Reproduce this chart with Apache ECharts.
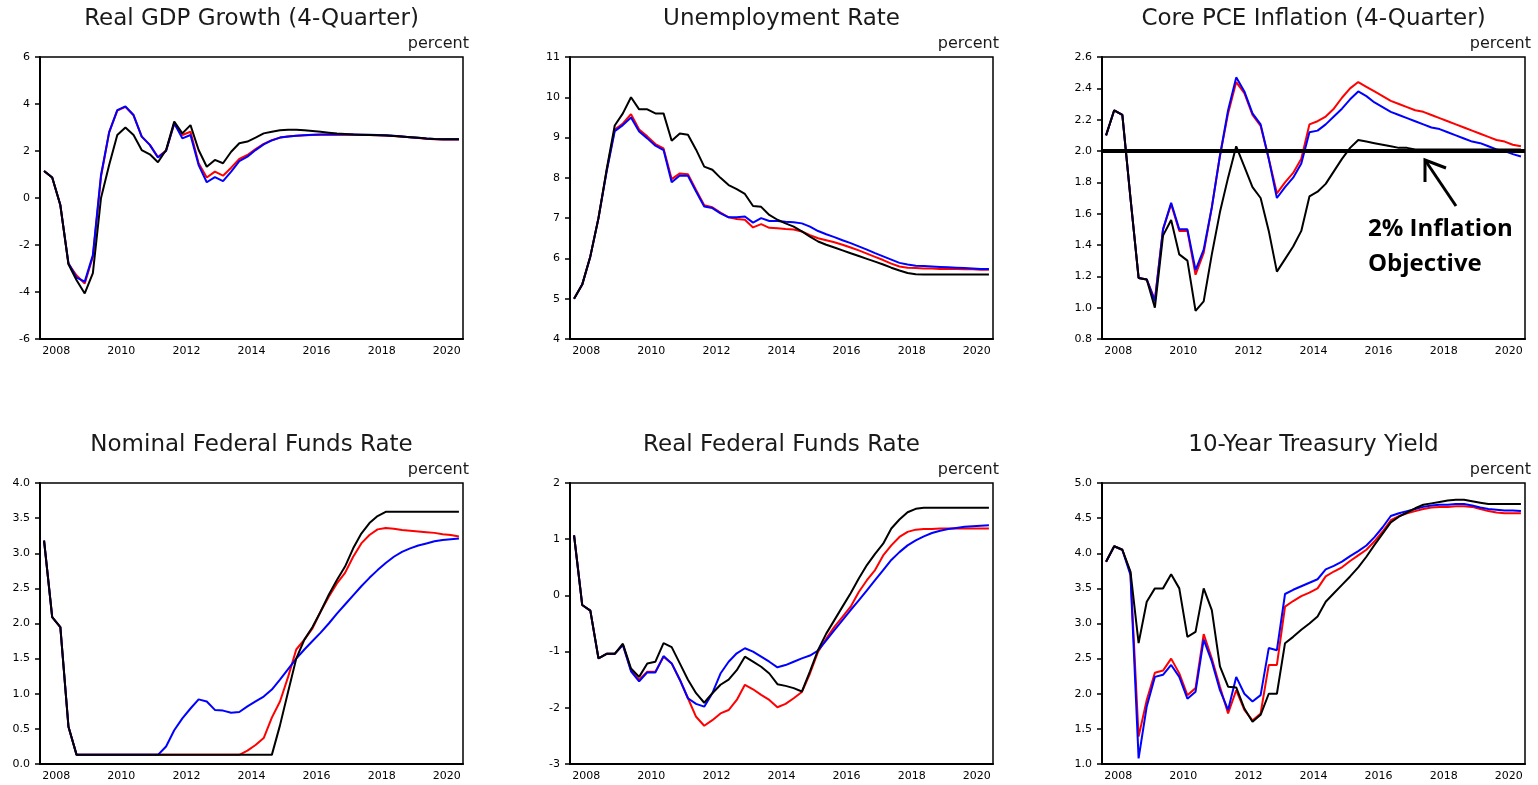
<!DOCTYPE html>
<html>
<head>
<meta charset="utf-8">
<script src="https://cdn.jsdelivr.net/npm/echarts@6/dist/echarts.min.js"></script>
<style>
  html, body { margin: 0; background: #fff; }
  #main { width: 1538px; height: 785px; }
</style>
</head>
<body>
<div id="main"></div>
<script>
// quarterly path 2008Q1 - 2020Q4
const years = ['2008', '2009', '2010', '2011', '2012', '2013', '2014', '2015', '2016', '2017', '2018', '2019', '2020'];
const quarters = [];
years.forEach(function (y) { ['Q1', 'Q2', 'Q3', 'Q4'].forEach(function (q) { quarters.push(y + q); }); });

const gdpRed = [1.15, 0.87, -0.3, -2.8, -3.3, -3.64, -2.5, 0.9, 2.8, 3.72, 3.88, 3.52, 2.62, 2.26, 1.74, 2.02, 3.15, 2.68, 2.82, 1.48, 0.87, 1.12, 0.95, 1.29, 1.66, 1.83, 2.08, 2.3, 2.46, 2.57, 2.62, 2.65, 2.67, 2.68, 2.69, 2.69, 2.69, 2.69, 2.69, 2.68, 2.68, 2.67, 2.66, 2.64, 2.61, 2.58, 2.55, 2.52, 2.5, 2.49, 2.49, 2.49];
const gdpBlue = [1.15, 0.87, -0.3, -2.78, -3.39, -3.56, -2.43, 0.98, 2.79, 3.74, 3.9, 3.53, 2.61, 2.26, 1.72, 2.0, 3.18, 2.54, 2.68, 1.4, 0.67, 0.89, 0.72, 1.12, 1.57, 1.76, 2.04, 2.28, 2.45, 2.57, 2.62, 2.65, 2.67, 2.69, 2.7, 2.7, 2.7, 2.7, 2.7, 2.69, 2.69, 2.68, 2.67, 2.65, 2.62, 2.59, 2.56, 2.53, 2.51, 2.5, 2.5, 2.5];
const gdpBlack = [1.15, 0.87, -0.3, -2.82, -3.5, -4.06, -3.2, 0.0, 1.4, 2.68, 3.0, 2.68, 2.04, 1.86, 1.52, 2.04, 3.25, 2.75, 3.1, 2.04, 1.33, 1.62, 1.48, 1.97, 2.33, 2.4, 2.57, 2.75, 2.82, 2.88, 2.9, 2.9, 2.88, 2.85, 2.82, 2.78, 2.74, 2.72, 2.7, 2.69, 2.68, 2.67, 2.66, 2.64, 2.62, 2.59, 2.56, 2.53, 2.51, 2.5, 2.5, 2.5];

const unRed = [5.0, 5.35, 6.05, 7.0, 8.18, 9.2, 9.35, 9.58, 9.2, 9.03, 8.84, 8.73, 7.97, 8.11, 8.09, 7.7, 7.32, 7.27, 7.14, 7.02, 6.98, 6.96, 6.77, 6.85, 6.76, 6.75, 6.73, 6.72, 6.67, 6.58, 6.5, 6.45, 6.4, 6.34, 6.27, 6.2, 6.12, 6.04, 5.96, 5.87, 5.8, 5.77, 5.76, 5.75, 5.75, 5.74, 5.74, 5.74, 5.73, 5.73, 5.72, 5.72];
const unBlue = [5.0, 5.35, 6.05, 7.0, 8.15, 9.16, 9.31, 9.5, 9.15, 8.98, 8.8, 8.69, 7.89, 8.06, 8.05, 7.66, 7.29, 7.25, 7.12, 7.02, 7.02, 7.04, 6.89, 7.0, 6.93, 6.93, 6.91, 6.9, 6.87, 6.79, 6.68, 6.6, 6.53, 6.45, 6.38, 6.3, 6.22, 6.13, 6.05, 5.97, 5.89, 5.85, 5.82, 5.81, 5.8, 5.79, 5.78, 5.77, 5.76, 5.75, 5.74, 5.74];
const unBlack = [5.0, 5.35, 6.05, 7.0, 8.2, 9.3, 9.6, 10.0, 9.7, 9.7, 9.6, 9.6, 8.92, 9.1, 9.07, 8.7, 8.28, 8.2, 8.0, 7.82, 7.72, 7.6, 7.3, 7.28, 7.08, 6.96, 6.87, 6.79, 6.67, 6.54, 6.42, 6.34, 6.27, 6.2, 6.13, 6.06, 5.99, 5.92, 5.85, 5.77, 5.7, 5.64, 5.61, 5.6, 5.6, 5.6, 5.6, 5.6, 5.6, 5.6, 5.6, 5.6];

const pceRed = [2.1, 2.26, 2.23, 1.7, 1.19, 1.18, 1.05, 1.5, 1.66, 1.49, 1.49, 1.21, 1.35, 1.64, 1.97, 2.24, 2.44, 2.37, 2.23, 2.16, 1.95, 1.73, 1.8, 1.86, 1.95, 2.17, 2.19, 2.22, 2.27, 2.34, 2.4, 2.44, 2.41, 2.38, 2.35, 2.32, 2.3, 2.28, 2.26, 2.25, 2.23, 2.21, 2.19, 2.17, 2.15, 2.13, 2.11, 2.09, 2.07, 2.06, 2.04, 2.03];
const pceBlue = [2.1, 2.26, 2.23, 1.7, 1.19, 1.18, 1.04, 1.5, 1.67, 1.5, 1.5, 1.24, 1.37, 1.64, 1.97, 2.26, 2.47, 2.38, 2.24, 2.17, 1.95, 1.7, 1.77, 1.83, 1.92, 2.12, 2.13, 2.17, 2.22, 2.27, 2.33, 2.38, 2.35, 2.31, 2.28, 2.25, 2.23, 2.21, 2.19, 2.17, 2.15, 2.14, 2.12, 2.1, 2.08, 2.06, 2.05, 2.03, 2.01, 2.0, 1.98, 1.965];
const pceBlack = [2.1, 2.26, 2.23, 1.7, 1.19, 1.18, 1.0, 1.46, 1.56, 1.34, 1.3, 0.98, 1.04, 1.34, 1.61, 1.83, 2.03, 1.9, 1.77, 1.7, 1.49, 1.23, 1.31, 1.39, 1.49, 1.71, 1.74, 1.79, 1.87, 1.95, 2.02, 2.07, 2.06, 2.05, 2.04, 2.03, 2.02, 2.02, 2.01, 2.01, 2.01, 2.01, 2.01, 2.01, 2.01, 2.01, 2.01, 2.01, 2.01, 2.01, 2.01, 2.01];
const inflationObjective = 2.0;

const ffrRed = [3.18, 2.09, 1.95, 0.53, 0.13, 0.13, 0.13, 0.13, 0.13, 0.13, 0.13, 0.13, 0.13, 0.13, 0.13, 0.13, 0.13, 0.13, 0.13, 0.13, 0.13, 0.13, 0.13, 0.13, 0.13, 0.19, 0.27, 0.37, 0.66, 0.89, 1.24, 1.63, 1.77, 1.93, 2.17, 2.38, 2.57, 2.72, 2.95, 3.14, 3.26, 3.34, 3.36, 3.35, 3.33, 3.32, 3.31, 3.3, 3.29, 3.27, 3.26, 3.24];
const ffrBlue = [3.18, 2.09, 1.95, 0.53, 0.13, 0.13, 0.13, 0.13, 0.13, 0.13, 0.13, 0.13, 0.13, 0.13, 0.13, 0.25, 0.48, 0.65, 0.79, 0.92, 0.89, 0.77, 0.76, 0.73, 0.74, 0.82, 0.89, 0.96, 1.06, 1.2, 1.35, 1.5, 1.63, 1.75, 1.87, 2.0, 2.14, 2.27, 2.4, 2.53, 2.65, 2.76, 2.86, 2.95, 3.02, 3.07, 3.11, 3.14, 3.17, 3.19, 3.2, 3.21];
const ffrBlack = [3.18, 2.09, 1.95, 0.53, 0.13, 0.13, 0.13, 0.13, 0.13, 0.13, 0.13, 0.13, 0.13, 0.13, 0.13, 0.13, 0.13, 0.13, 0.13, 0.13, 0.13, 0.13, 0.13, 0.13, 0.13, 0.13, 0.13, 0.13, 0.13, 0.55, 1.03, 1.5, 1.77, 1.95, 2.17, 2.41, 2.62, 2.81, 3.07, 3.28, 3.43, 3.53, 3.59, 3.59, 3.59, 3.59, 3.59, 3.59, 3.59, 3.59, 3.59, 3.59];

const rffRed = [1.07, -0.17, -0.27, -1.12, -1.04, -1.04, -0.88, -1.33, -1.5, -1.36, -1.36, -1.09, -1.21, -1.5, -1.83, -2.16, -2.32, -2.22, -2.1, -2.04, -1.86, -1.59, -1.67, -1.77, -1.86, -1.99, -1.93, -1.83, -1.72, -1.39, -1.0, -0.77, -0.56, -0.38, -0.2, 0.06, 0.27, 0.45, 0.71, 0.89, 1.04, 1.13, 1.17, 1.18, 1.18, 1.19, 1.19, 1.19, 1.19, 1.19, 1.19, 1.19];
const rffBlue = [1.07, -0.17, -0.27, -1.12, -1.04, -1.04, -0.88, -1.35, -1.53, -1.37, -1.37, -1.08, -1.21, -1.5, -1.83, -1.93, -1.98, -1.74, -1.39, -1.18, -1.03, -0.94, -1.0, -1.09, -1.18, -1.28, -1.24, -1.18, -1.12, -1.07, -0.98, -0.8, -0.62, -0.44, -0.26, -0.09, 0.09, 0.27, 0.45, 0.63, 0.77, 0.89, 0.98, 1.05, 1.11, 1.15, 1.18, 1.2, 1.22, 1.23, 1.24, 1.25];
const rffBlack = [1.07, -0.17, -0.27, -1.12, -1.04, -1.04, -0.86, -1.3, -1.45, -1.21, -1.18, -0.85, -0.92, -1.21, -1.5, -1.74, -1.91, -1.74, -1.59, -1.5, -1.33, -1.09, -1.18, -1.27, -1.39, -1.58, -1.61, -1.65, -1.71, -1.35, -0.97, -0.68, -0.44, -0.2, 0.04, 0.3, 0.54, 0.74, 0.92, 1.19, 1.35, 1.48, 1.54, 1.56, 1.56, 1.56, 1.56, 1.56, 1.56, 1.56, 1.56, 1.56];

const tyRed = [3.88, 4.1, 4.05, 3.72, 1.39, 1.91, 2.3, 2.33, 2.5, 2.29, 1.98, 2.08, 2.85, 2.5, 2.1, 1.72, 2.05, 1.77, 1.62, 1.72, 2.41, 2.41, 3.24, 3.32, 3.39, 3.44, 3.5, 3.67, 3.74, 3.8, 3.89, 3.97, 4.05, 4.17, 4.31, 4.47, 4.53, 4.57, 4.6, 4.63, 4.65, 4.66, 4.66, 4.67, 4.67, 4.66, 4.63, 4.6, 4.58, 4.57, 4.57, 4.57];
const tyBlue = [3.88, 4.1, 4.05, 3.69, 1.08, 1.82, 2.24, 2.27, 2.41, 2.24, 1.93, 2.03, 2.77, 2.46, 2.05, 1.77, 2.24, 2.0, 1.89, 1.98, 2.65, 2.62, 3.42, 3.48, 3.53, 3.58, 3.63, 3.77, 3.82, 3.88, 3.96, 4.03, 4.11, 4.23, 4.37, 4.53, 4.57, 4.6, 4.63, 4.66, 4.68, 4.69, 4.69, 4.7, 4.7, 4.68, 4.65, 4.63, 4.62, 4.61, 4.61, 4.6];
const tyBlack = [3.88, 4.1, 4.05, 3.74, 2.72, 3.31, 3.5, 3.5, 3.7, 3.5, 2.81, 2.88, 3.5, 3.19, 2.39, 2.1, 2.09, 1.79, 1.6, 1.7, 2.0, 2.0, 2.72, 2.81, 2.91, 3.0, 3.1, 3.31, 3.43, 3.55, 3.67, 3.8, 3.95, 4.12, 4.28, 4.44, 4.52, 4.58, 4.64, 4.69, 4.71, 4.73, 4.75, 4.76, 4.76, 4.74, 4.72, 4.7, 4.7, 4.7, 4.7, 4.7];

const panels = [
  { title: 'Real GDP Growth (4-Quarter)', min: -6, max: 6, step: 2, dec: 0, red: gdpRed, blue: gdpBlue, black: gdpBlack },
  { title: 'Unemployment Rate', min: 4, max: 11, step: 1, dec: 0, red: unRed, blue: unBlue, black: unBlack },
  { title: 'Core PCE Inflation (4-Quarter)', min: 0.8, max: 2.6, step: 0.2, dec: 1, red: pceRed, blue: pceBlue, black: pceBlack },
  { title: 'Nominal Federal Funds Rate', min: 0, max: 4, step: 0.5, dec: 1, red: ffrRed, blue: ffrBlue, black: ffrBlack },
  { title: 'Real Federal Funds Rate', min: -3, max: 2, step: 1, dec: 0, red: rffRed, blue: rffBlue, black: rffBlack },
  { title: '10-Year Treasury Yield', min: 1, max: 5, step: 0.5, dec: 1, red: tyRed, blue: tyBlue, black: tyBlack }
];

// plot boxes: left, top, height (width is the same everywhere)
const boxes = [[40, 57, 282], [570, 57, 282], [1102, 57, 282], [40, 483, 281], [570, 483, 281], [1102, 483, 281]];
const boxW = 423;
const font = 'DejaVu Sans';

var grids = [], xAxes = [], yAxes = [], series = [], graphics = [];

panels.forEach(function (p, k) {
  var b = boxes[k];
  grids.push({ left: b[0], top: b[1], width: boxW, height: b[2], show: true, borderColor: '#000', borderWidth: 1.5 });

  // year axis: ticks on year boundaries, labels every other year
  xAxes.push({
    type: 'category', gridIndex: k, position: 'bottom', data: years, boundaryGap: true,
    axisLine: { onZero: false, lineStyle: { color: '#000', width: 2 } },
    axisTick: { interval: 0, length: 5, lineStyle: { color: '#000', width: 1.5 } },
    axisLabel: { interval: 1, color: '#000', fontFamily: font, fontSize: 11, margin: 7 },
    splitLine: { show: false }
  });
  // quarterly axis that carries the lines
  xAxes.push({ type: 'category', gridIndex: k, position: 'bottom', data: quarters, boundaryGap: true, show: false, axisLine: { onZero: false } });

  yAxes.push({
    type: 'value', gridIndex: k, min: p.min, max: p.max, interval: p.step,
    axisLine: { show: true, onZero: false, lineStyle: { color: '#000', width: 2 } },
    axisTick: { show: true, length: 5, lineStyle: { color: '#000', width: 1.5 } },
    splitLine: { show: false },
    axisLabel: {
      color: '#000', fontFamily: font, fontSize: 11, margin: 10,
      formatter: (function (d) { return function (v) { return v.toFixed(d); }; })(p.dec)
    }
  });

  [['red', '#ff0000', 1], ['blue', '#0000ff', 2], ['black', '#000000', 3]].forEach(function (s) {
    var ser = {
      type: 'line', name: s[0], xAxisIndex: 2 * k + 1, yAxisIndex: k, data: p[s[0]],
      symbol: 'none', showSymbol: false, z: s[2],
      lineStyle: { color: s[1], width: 2 }, itemStyle: { color: s[1] }
    };
    if (k === 2 && s[0] === 'black') {
      ser.markLine = {
        silent: true, symbol: 'none', label: { show: false },
        lineStyle: { color: '#000', width: 4, type: 'solid' },
        data: [{ yAxis: inflationObjective }]
      };
    }
    series.push(ser);
  });

  var cx = b[0] + boxW / 2;
  graphics.push({
    type: 'text', x: cx, y: b[1] - 38,
    style: { text: p.title, fontFamily: font, fontSize: 23, fill: '#1a1a1a', align: 'center', verticalAlign: 'middle' }
  });
  graphics.push({
    type: 'text', x: b[0] + boxW + 6, y: b[1] - 13,
    style: { text: 'percent', fontFamily: font, fontSize: 16, fill: '#1a1a1a', align: 'right', verticalAlign: 'middle' }
  });
});

// annotation on the inflation panel
graphics.push({
  type: 'text', x: 1368, y: 229,
  style: { text: '2% Inflation', fontFamily: 'Open Sans', fontWeight: 'bold', fontSize: 24, fill: '#000', align: 'left', verticalAlign: 'middle' }
});
graphics.push({
  type: 'text', x: 1368, y: 264,
  style: { text: 'Objective', fontFamily: 'Open Sans', fontWeight: 'bold', fontSize: 24, fill: '#000', align: 'left', verticalAlign: 'middle' }
});
graphics.push({
  type: 'polyline', shape: { points: [[1456, 206], [1425, 160]] },
  style: { stroke: '#000', lineWidth: 3, fill: null }
});
graphics.push({
  type: 'polyline', shape: { points: [[1446, 168], [1425, 160], [1425, 182]] },
  style: { stroke: '#000', lineWidth: 3, fill: null }
});

var chart = echarts.init(document.getElementById('main'));
chart.setOption({
  animation: false,
  backgroundColor: '#fff',
  grid: grids,
  xAxis: xAxes,
  yAxis: yAxes,
  series: series,
  graphic: graphics
});
</script>
</body>
</html>
